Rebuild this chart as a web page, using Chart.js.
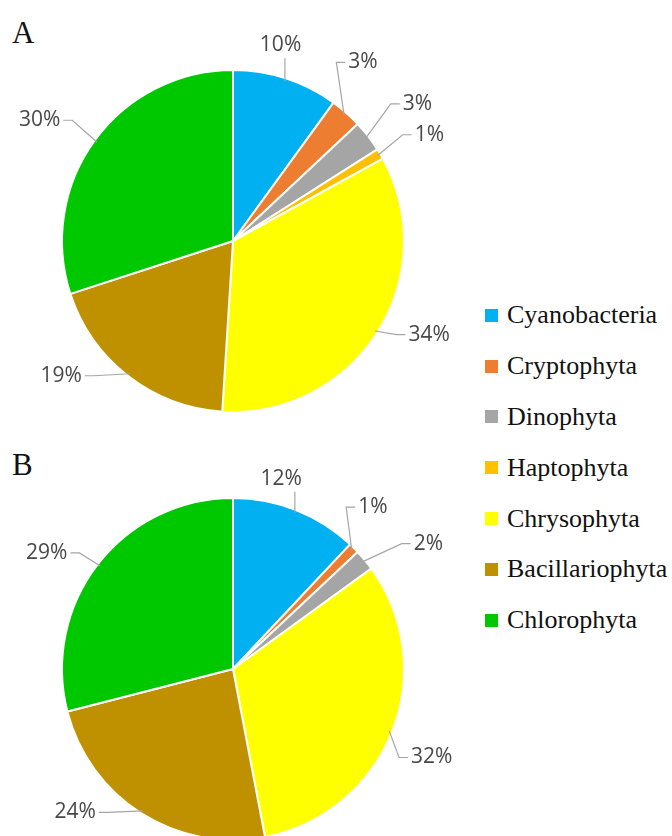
<!DOCTYPE html>
<html>
<head>
<meta charset="utf-8">
<script src="https://cdn.jsdelivr.net/npm/chart.js@4"></script>
<style>
  html, body { margin: 0; padding: 0; background: #fff; overflow: hidden; }
  body { width: 672px; height: 836px; position: relative; }
  canvas { position: absolute; left: 0; }
  #pieA { top: 0; }
  #pieB { top: 420px; }
  .panel {
    position: absolute; left: 12px;
    font: 31px "Liberation Serif", serif; line-height: 31px; color: #111;
  }
  #legend { position: absolute; left: 485px; top: 290px; }
  .row { display: flex; align-items: center; height: 50.8px; }
  .swatch { width: 13px; height: 13px; margin-right: 9px; }
  .name { font: 26px "Liberation Serif", serif; line-height: 26px; color: #111; }
</style>
</head>
<body>
<div class="panel" style="top:17px">A</div>
<div class="panel" style="top:449px">B</div>
<canvas id="pieA" width="466" height="482"></canvas>
<canvas id="pieB" width="466" height="498"></canvas>
<div id="legend"></div>
<script>
// ============================================================
// PHYTOPLANKTON COMPOSITION — two pies (A, B) + shared legend
// ============================================================

const categories = ["Cyanobacteria", "Cryptophyta", "Dinophyta", "Haptophyta",
  "Chrysophyta", "Bacillariophyta", "Chlorophyta"];

const COLORS = ["#00b0f0", "#ed7d31", "#a5a5a5", "#ffc000", "#ffff00", "#bf9000", "#00c800"];

// percent share per group
const shareA = [10, 3, 3, 1, 34, 19, 30];
const shareB = [12, 1, 2, 0, 32, 24, 29];

// small hand tweaks so labels sit where the original put them
const labelNudgeA = [[-17, 3], [-9, -21], [18, -8], [15, 1], [14, -22], [-41, -34], [-19, 6]];
const labelNudgeB = [[-29, 5], [-9, -13], [33, 9], [0, 0], [-2, 9], [-44, -36], [-16, 16]];

const PIE_RADIUS = 171;

// draws "NN%" outside each slice with a thin grey leader line
const outsideLabels = {
  id: "outsideLabels",
  afterDatasetsDraw(chart, args, opts) {
    const ctx = chart.ctx;
    const values = chart.data.datasets[0].data;
    const nudges = opts.nudges || [];
    ctx.save();
    ctx.font = '21px "Open Sans"';
    ctx.fillStyle = "#484848";
    ctx.strokeStyle = "#a6a6a6";
    ctx.lineWidth = 1.2;
    ctx.textAlign = "center";
    ctx.textBaseline = "middle";

    chart.getDatasetMeta(0).data.forEach((arc, i) => {
      if (!values[i]) return;
      const { x, y, startAngle, endAngle, outerRadius } =
        arc.getProps(["x", "y", "startAngle", "endAngle", "outerRadius"], true);
      const mid = (startAngle + endAngle) / 2;
      const dx = Math.cos(mid);
      const dy = Math.sin(mid);
      const text = values[i] + "%";
      const hw = ctx.measureText(text).width / 2;
      const hh = 10;
      const dist = outerRadius + 22 + Math.abs(dx) * hw + Math.abs(dy) * hh;
      const n = nudges[i] || [0, 0];
      const lx = x + dx * dist + n[0];
      const ly = y + dy * dist + n[1];
      const px = x + dx * (outerRadius - 3);
      const py = y + dy * (outerRadius - 3);

      ctx.beginPath();
      ctx.moveTo(px, py);
      if (Math.abs(lx - px) > hw + 4) {
        const side = lx > px ? -1 : 1;
        const ax = lx + side * (hw + 3);
        ctx.lineTo(ax + side * 9, ly);
        ctx.lineTo(ax, ly);
      } else {
        const ax = Math.min(Math.max(px, lx - hw), lx + hw);
        const ay = ly < py ? ly + hh + 3 : ly - hh - 3;
        ctx.lineTo(ax, ay);
      }
      ctx.stroke();
      ctx.fillText(text, lx, ly);
    });
    ctx.restore();
  },
};

const buildPieConfig = (values, nudges) => ({
  type: "pie",
  data: {
    labels: categories,
    datasets: [{
      data: values,
      backgroundColor: COLORS,
      borderColor: "#ffffff",
      borderWidth: 2,
    }],
  },
  options: {
    responsive: false,
    animation: false,
    radius: PIE_RADIUS,
    layout: { padding: 0 },
    plugins: {
      legend: { display: false },
      tooltip: { enabled: false },
      outsideLabels: { nudges },
    },
  },
  plugins: [outsideLabels],
});

new Chart(document.getElementById("pieA").getContext("2d"), buildPieConfig(shareA, labelNudgeA));
new Chart(document.getElementById("pieB").getContext("2d"), buildPieConfig(shareB, labelNudgeB));

// shared legend
const legend = document.getElementById("legend");
categories.forEach((name, i) => {
  const row = document.createElement("div");
  row.className = "row";
  row.innerHTML = `<span class="swatch" style="background:${COLORS[i]}"></span><span class="name">${name}</span>`;
  legend.appendChild(row);
});
</script>
</body>
</html>
